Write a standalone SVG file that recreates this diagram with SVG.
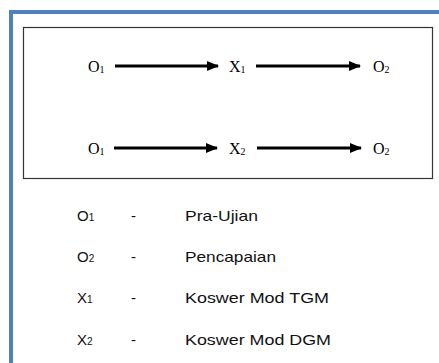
<svg xmlns="http://www.w3.org/2000/svg" width="439" height="363" viewBox="0 0 439 363">
<style>
.t{font-family:"Liberation Serif","Times New Roman",serif;font-size:16px;fill:#000}
.s{font-size:10px}
.l{font-family:"Liberation Sans",Arial,sans-serif;font-size:15px;fill:#111}
.ls{font-size:10px}
.c{stroke:#000;stroke-width:3;fill:none;marker-end:url(#ah)}
</style>
<defs>
<marker id="ah" markerUnits="userSpaceOnUse" markerWidth="12" markerHeight="10" refX="11" refY="5" orient="auto">
<path d="M0,0 L12,5 L0,10 Z" fill="#000"/>
</marker>
</defs>
<rect x="0" y="0" width="439" height="363" fill="#fff"/>
<path d="M11,363 V12 H439" fill="none" stroke="#4f81bd" stroke-width="4"/>
<rect x="23.5" y="27.5" width="409" height="151" fill="#fff" stroke="#333" stroke-width="1.2"/>
<g id="connectors">
<line class="c" x1="115" y1="66" x2="218" y2="66"/>
<line class="c" x1="256" y1="66" x2="360" y2="66"/>
<line class="c" x1="114" y1="148" x2="217" y2="148"/>
<line class="c" x1="257" y1="148" x2="361" y2="148"/>
</g>
<g id="n-o1-a"><text class="t" x="88" y="72">O<tspan class="s" dy="1">1</tspan></text></g>
<g id="n-x1"><text class="t" x="229" y="72">X<tspan class="s" dy="1">1</tspan></text></g>
<g id="n-o2-a"><text class="t" x="373" y="72">O<tspan class="s" dy="1">2</tspan></text></g>
<g id="n-o1-b"><text class="t" x="88" y="154">O<tspan class="s" dy="1">1</tspan></text></g>
<g id="n-x2"><text class="t" x="229" y="154">X<tspan class="s" dy="1">2</tspan></text></g>
<g id="n-o2-b"><text class="t" x="373" y="154">O<tspan class="s" dy="1">2</tspan></text></g>
<g id="legend">
<text class="l" x="77" y="221">O<tspan class="ls">1</tspan></text>
<text class="l" x="131" y="221">-</text>
<text class="l" x="185" y="221" textLength="73" lengthAdjust="spacingAndGlyphs">Pra-Ujian</text>
<text class="l" x="77" y="262">O<tspan class="ls">2</tspan></text>
<text class="l" x="131" y="262">-</text>
<text class="l" x="185" y="262" textLength="91" lengthAdjust="spacingAndGlyphs">Pencapaian</text>
<text class="l" x="77" y="303">X<tspan class="ls">1</tspan></text>
<text class="l" x="131" y="303">-</text>
<text class="l" x="185" y="303" textLength="144" lengthAdjust="spacingAndGlyphs">Koswer Mod TGM</text>
<text class="l" x="77" y="345">X<tspan class="ls">2</tspan></text>
<text class="l" x="131" y="345">-</text>
<text class="l" x="185" y="345" textLength="146" lengthAdjust="spacingAndGlyphs">Koswer Mod DGM</text>
</g>
</svg>
